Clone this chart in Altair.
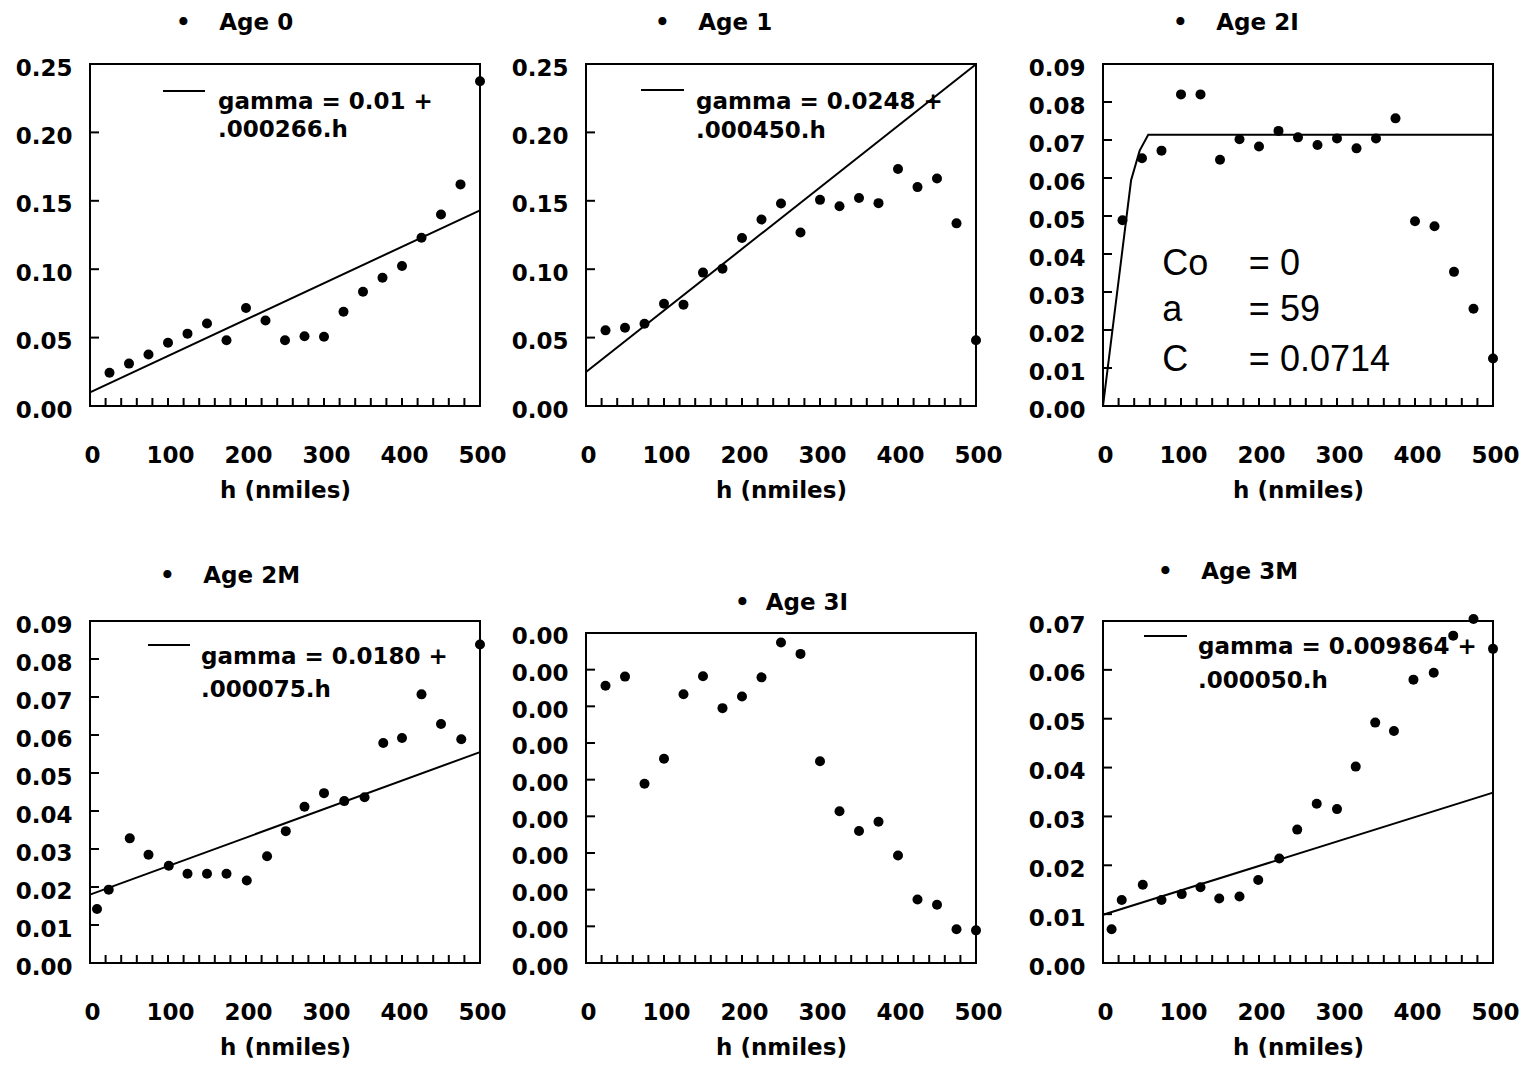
import altair as alt
import pandas as pd

FONT = "DejaVu Sans"
STAT_FONT = "Liberation Sans"

# ---------------- data ----------------
lags = [25, 50, 75, 100, 125, 150, 175, 200, 225, 250, 275, 300, 325, 350, 375, 400, 425, 450, 475, 500]

age0_g = [0.0243, 0.0310, 0.0377, 0.0463, 0.0529, 0.0603, 0.0481, 0.0716, 0.0625, 0.0481,
          0.0510, 0.0506, 0.0689, 0.0835, 0.0937, 0.1023, 0.1230, 0.1400, 0.1620, 0.2374]
age0_fit_h = [0, 500]
age0_fit_g = [0.0100, 0.1430]

age1_g = [0.0553, 0.0572, 0.0601, 0.0748, 0.0741, 0.0975, 0.1004, 0.1228, 0.1363, 0.1480,
          0.1268, 0.1507, 0.1460, 0.1520, 0.1483, 0.1732, 0.1600, 0.1663, 0.1335, 0.0480]
age1_fit_h = [0, 500]
age1_fit_g = [0.0248, 0.2498]

age2i_g = [0.0489, 0.0652, 0.0672, 0.0820, 0.0820, 0.0648, 0.0702, 0.0683, 0.0724, 0.0707,
           0.0687, 0.0704, 0.0678, 0.0704, 0.0757, 0.0486, 0.0473, 0.0353, 0.0256, 0.0125]
age2i_model_h = [0, 36, 47, 58, 500]
age2i_model_g = [0.0, 0.0594, 0.0672, 0.0714, 0.0714]
age2i_stat_names = ["Co", "a", "C"]
age2i_stat_values = ["= 0", "= 59", "= 0.0714"]

age2m_h = [9, 24, 51, 75, 101, 125, 150, 175, 201, 227, 251, 275, 300, 326, 352, 376, 400, 425, 450, 476, 500]
age2m_g = [0.0142, 0.0193, 0.0328, 0.0285, 0.0256, 0.0235, 0.0235, 0.0235, 0.0217, 0.0281, 0.0347,
           0.0411, 0.0447, 0.0426, 0.0436, 0.0579, 0.0592, 0.0707, 0.0629, 0.0589, 0.0838]
age2m_fit_h = [0, 500]
age2m_fit_g = [0.0180, 0.0555]

age3i_g = [0.000756, 0.000781, 0.000489, 0.000557, 0.000733, 0.000782, 0.000695, 0.000727, 0.000779, 0.000874,
           0.000843, 0.000550, 0.000414, 0.000360, 0.000385, 0.000293, 0.000173, 0.000159, 0.000092, 0.000089]

age3m_h = [11, 24, 51, 75, 101, 125, 149, 175, 199, 226, 249, 274, 300, 324, 349, 373, 398, 424, 449, 475, 500]
age3m_g = [0.0069, 0.0129, 0.0160, 0.0129, 0.0141, 0.0155, 0.0132, 0.0136, 0.0170, 0.0214, 0.0273,
           0.0326, 0.0315, 0.0402, 0.0492, 0.0475, 0.0580, 0.0594, 0.0670, 0.0704, 0.0643]
age3m_fit_h = [0, 500]
age3m_fit_g = [0.009864, 0.034864]

# tick labels
x_labels = [0, 100, 200, 300, 400, 500]
x_minor = [20, 40, 60, 80, 100, 120, 140, 160, 180, 200, 220, 240,
           260, 280, 300, 320, 340, 360, 380, 400, 420, 440, 460, 480]
y_ticks_025 = [0.0, 0.05, 0.10, 0.15, 0.20, 0.25]
y_ticks_009 = [0.0, 0.01, 0.02, 0.03, 0.04, 0.05, 0.06, 0.07, 0.08, 0.09]
y_ticks_007 = [0.0, 0.01, 0.02, 0.03, 0.04, 0.05, 0.06, 0.07]
y_ticks_3i = [0.0, 0.0001, 0.0002, 0.0003, 0.0004, 0.0005, 0.0006, 0.0007, 0.0008, 0.0009]

W = 390
H = 342


def panel(title, title_dx, title_offset, h, g, fit_h, fit_g, y_domain, y_ticks, y_extent,
          eq_lines=None, eq_pos=None, frame_top=None, stats=False):
    xs = alt.Scale(domain=[0, 500], nice=False, zero=False)
    ys = alt.Scale(domain=y_domain, nice=False, zero=False)
    x_axis = alt.Axis(values=x_labels, format="d", title="h (nmiles)", labelFlush=False,
                      labelOverlap=False, labelOffset=2, labelPadding=38, titlePadding=12,
                      ticks=False, tickSize=0, domain=False, grid=False)
    y_axis = alt.Axis(values=y_ticks, format=".2f", title=None, labelFlush=False,
                      labelOverlap=False, labelOffset=4, labelPadding=18, ticks=False,
                      tickSize=0, domain=False, grid=False, minExtent=y_extent, maxExtent=y_extent)
    X = alt.X("h:Q", scale=xs, axis=x_axis)
    Y = alt.Y("g:Q", scale=ys, axis=y_axis)
    layers = []
    if len(fit_h) > 0:
        fit_df = pd.DataFrame({"h": fit_h, "g": fit_g})
        layers.append(alt.Chart(fit_df).mark_line(color="black", strokeWidth=2).encode(x=X, y=Y))
    pts_df = pd.DataFrame({"h": h, "g": g})
    layers.append(alt.Chart(pts_df).mark_circle(size=100, color="black", opacity=1).encode(x=X, y=Y))
    # inward tick marks
    layers.append(alt.Chart(pd.DataFrame({"h": x_minor})).mark_rule(color="black", strokeWidth=2).encode(
        x=X, y=alt.value(H), y2=alt.value(H - 8)))
    layers.append(alt.Chart(pd.DataFrame({"g": y_ticks[1:]})).mark_rule(color="black", strokeWidth=2).encode(
        y=Y, x=alt.value(0), x2=alt.value(9)))
    if frame_top is not None:
        layers.append(alt.Chart(pd.DataFrame({"g": [frame_top]})).mark_rect(
            filled=False, stroke="black", strokeWidth=2).encode(
            y=Y, y2=alt.value(H), x=alt.value(0), x2=alt.value(W)))
    if eq_lines is not None:
        lx1, lx2, ly, tx, ty1, ty2 = eq_pos
        layers.append(alt.Chart(pd.DataFrame({"k": [0]})).mark_rule(color="black", strokeWidth=2).encode(
            x=alt.value(lx1), x2=alt.value(lx2), y=alt.value(ly)))
        eq_df = pd.DataFrame({"px": [tx, tx], "py": [ty1, ty2], "txt": eq_lines})
        layers.append(alt.Chart(eq_df).mark_text(
            align="left", baseline="top", font=FONT, fontSize=23, fontWeight="bold", color="black").encode(
            x=alt.X("px:Q", scale=None), y=alt.Y("py:Q", scale=None), text="txt:N"))
    if stats:
        st_df = pd.DataFrame({"h": [76, 76, 76], "g": [0.0345, 0.0224, 0.0093],
                              "name": age2i_stat_names, "val": age2i_stat_values})
        layers.append(alt.Chart(st_df).mark_text(
            align="left", baseline="alphabetic", font=STAT_FONT, fontSize=36, color="black").encode(
            x=X, y=Y, text="name:N"))
        st_df2 = st_df.assign(h=[187, 187, 187])
        layers.append(alt.Chart(st_df2).mark_text(
            align="left", baseline="alphabetic", font=STAT_FONT, fontSize=36, color="black").encode(
            x=X, y=Y, text="val:N"))
    ch = alt.layer(*layers).properties(
        width=W, height=H,
        title=alt.TitleParams(text=title, anchor="start", frame="group", dx=title_dx,
                              offset=title_offset, baseline="alphabetic", font=FONT,
                              fontSize=23, fontWeight="bold", color="black"))
    if frame_top is not None:
        ch = ch.properties(view=alt.ViewBackground(strokeOpacity=0))
    return ch


SP3 = "\u00a0\u00a0\u00a0\u2009"
SP2 = "\u00a0\u00a0"

p1 = panel("\u2022" + SP3 + "Age 0", 86, 4, lags, age0_g, age0_fit_h, age0_fit_g,
           [0, 0.25], y_ticks_025, 77,
           eq_lines=["gamma = 0.01 +", ".000266.h"], eq_pos=(73, 115, 27, 128, 27, 55))
p2 = panel("\u2022" + SP3 + "Age 1", 69, 4, lags, age1_g, age1_fit_h, age1_fit_g,
           [0, 0.25], y_ticks_025, 77,
           eq_lines=["gamma = 0.0248 +", ".000450.h"], eq_pos=(55, 98, 26, 110, 27, 56))
p3 = panel("\u2022" + SP3 + "Age 2I", 70, 4, lags, age2i_g, age2i_model_h, age2i_model_g,
           [0, 0.09], y_ticks_009, 98, stats=True)
p4 = panel("\u2022" + SP3 + "Age 2M", 70, 8, age2m_h, age2m_g, age2m_fit_h, age2m_fit_g,
           [0, 0.09], y_ticks_009, 79,
           eq_lines=["gamma = 0.0180 +", ".000075.h"], eq_pos=(58, 100, 24, 111, 25, 58))
p5 = panel("\u2022" + SP2 + "Age 3I", 149, -12, lags, age3i_g, [], [],
           [0, 0.0009327], y_ticks_3i, 78, frame_top=0.0009)
p6 = panel("\u2022" + SP3 + "Age 3M", 55, 12, age3m_h, age3m_g, age3m_fit_h, age3m_fit_g,
           [0, 0.07], y_ticks_007, 98,
           eq_lines=["gamma = 0.009864 +", ".000050.h"], eq_pos=(41, 84, 15, 95, 15, 49))

chart = alt.ConcatChart(
    concat=[p1, p2, p3, p4, p5, p6], columns=3,
    spacing=alt.RowColnumber(row=57, column=0),
    align=alt.RowColLayoutAlign(row="each", column="none"),
    bounds="full",
    padding={"left": 2, "top": 3, "right": 0, "bottom": 0},
    background="white",
).configure_view(stroke="black", strokeWidth=2).configure_axis(
    labelFont=FONT, labelFontSize=23, labelFontWeight="bold", labelColor="black",
    labelOverlap=False, labelFlush=False,
    titleFont=FONT, titleFontSize=23, titleFontWeight="bold", titleColor="black")

chart.save("out.html", embed_options={"renderer": "svg", "actions": False})
